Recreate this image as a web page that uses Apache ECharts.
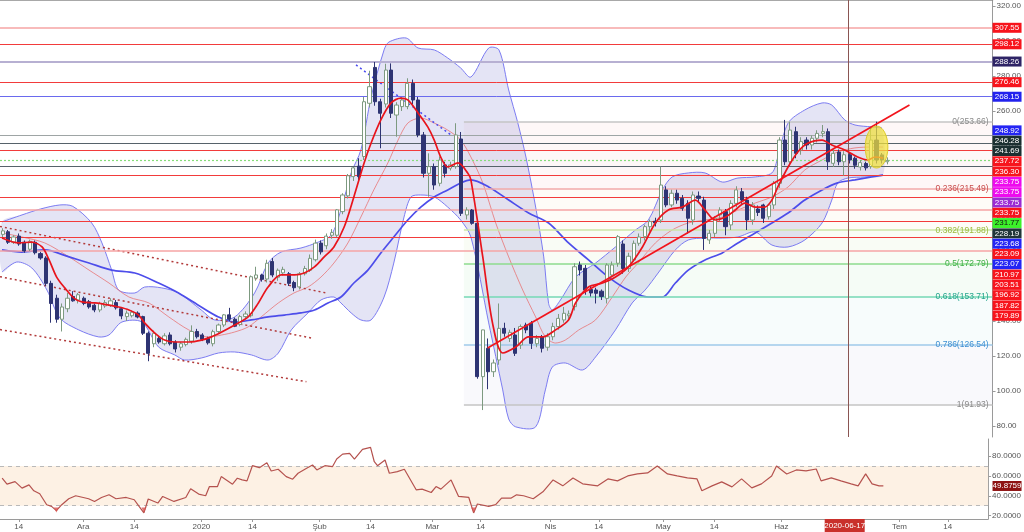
<!DOCTYPE html>
<html><head><meta charset="utf-8">
<script src="https://cdn.jsdelivr.net/npm/echarts@6.0.0/dist/echarts.min.js"></script>
<style>html,body{margin:0;padding:0;background:#fff;}#chart{width:1024px;height:532px;}</style>
</head><body><div id="chart"></div>
<script>
// ---------- DATA ----------
const startDate = '2019-11-11';           // first trading day shown (weekday calendar)
const categoryCount = 184;
const timeTickPos  = [3, 15, 24.5, 37, 46.5, 59, 68.5, 80, 89, 102, 111, 123, 132.5, 145, 167, 176];
const timeTickText = ['14','Ara','14','2020','14','Şub','14','Mar','14','Nis','14','May','14','Haz','Tem','14'];
const cursorPos = 156.8, cursorText = '2020-06-17';
const priceTicks = [80,100,120,140,160,180,200,220,240,260,280,300,320];
const rsiTicks = [20,40,60,80];
const eventBars = [10.0, 26.3, 87.7];
const eventLevel = 25.7;

const opens  = [189.5,191,185,188.5,185,181,185,178.5,176,161.5,153,141,147,154,152,153,151,149,146.3,148.6,149,150.5,147,142.5,143,144.5,142.5,133,127,130,127,132,128,125,126.5,128.5,134,132,130,127,134,137.7,143.5,141,138,142.5,143,164.5,166.3,164,174,165,167.5,167,162,159.5,167,169,175,184.5,183,189,189,202.5,211.5,222.5,228.5,234,264.4,284.9,265.3,264,283.4,257.7,262.5,262.5,275.8,266.3,246.3,224.4,228.2,218.7,229.2,227.3,228.2,244,200.6,203.4,195.8,108.2,124.4,111,117.7,135.8,130,132,126.3,137.7,138.7,127,131,125,131,136.8,140.6,143,148.2,172,170.1,158,157.7,157,152.9,166.3,173,184,170,174.9,184.4,188.2,193.9,197,197.7,214.9,206.3,213,210.1,207.2,197.7,211.4,209.1,186.3,190.1,200.6,202.5,194.9,207.2,213.9,209.1,197.7,204,206.3,199.6,206.3,218.7,243.4,231,248.2,237.7,243.4,240.6,244.4,247.2,248.2,230.1,236.5,231,235,233,228,230,228.2,243.4,234.9,231];
const highs  = [193,192,189,190,186,186.5,186,179.5,177,163,155,150,156,157,156,154,152,150,151,152,153,152,148,146,146,145.5,143,134,134.5,131,133,133.5,129,128,130.5,137.5,135.5,133,131,135,138.5,144,147.5,142,143.5,145.5,166,171,167,175,176,170,171,168,163,168,171.5,178,186.5,186,190,192.5,204,213,224,228,233,268,283,288,267,287,287.2,265,268,278.7,278,268,248,235.8,230,234,231,231,253,248,205,204,197,135,130,118,150,139,135,136,138,139,140,132,132,133,139,144,148,146,173,174,172,160,159,158,173,174,189.1,186,179,186,190,195,198,199,228.2,217,215,215,212,209,214,214,211,192,200,205,204,209,217,216,211,208,206,207,207,220,245,254.9,253.9,251,245,245,246,249,252,250,238,238,237,236,234,232,231,251,253.9,236,233.5];
const lows   = [188,184,184,183,179,180,178,175,160,139,139,134,145,151,150,149,147,145,145,147.5,148,146.5,141,140,142,141.5,132,117,125,127,126,126,122,123,125.5,127,130,128.5,126.5,125.5,133,136.5,140,136.5,137,141.5,142,163,162.5,162,165,163,166,160,157,158,166,168,174,178,181,187,188,201,210,220,220,232,262,263,238.7,262,256,245.3,260,261,264,245,222,211,215,217,222,226,227,200,198,195,107,89.1,101,108,115,131,128,120,124,133,124,125,122,123,129,135,139,141,146,166,155,154,150,152,150,165,171,167,168,174,183,186,191,194,196,205,205,207,203,190,195,208,180.6,184,188,197,189,192,205,207,192,195,200,196,198,204,216,229,229,233,235,238,238,242,245,226.3,228,229,223,230,227,226,226,227,230,230,229.5];
const closes = [191.5,185,188,184,180,185.5,179,176,161.5,150,141,148,153,151.5,155,150,148,146.3,150,150.5,151.5,147.5,142.9,144.5,145,142.3,133,121.5,133,128,131.5,127,124,127,129.5,134,131,129.5,127.5,133.9,137.7,143.5,141,137,142.5,144,165.3,166.3,163.8,173,166.3,169,169.5,161.5,159,167,170,175.8,184.5,179.5,188.5,190.5,203.5,212,223,227.5,222.5,265.3,273.9,265.3,258.7,283.4,258.7,263.4,266.3,275.8,266.3,246.3,224.4,228.2,217.7,232,224.4,229.2,246.3,201.5,203.4,195.8,108.2,134.9,111,116,135.8,133,133.5,121.5,136.8,134.9,127.2,130,124.4,131,136.8,141.5,144.4,144,171,169.1,157.7,156,155.8,154,172,172,188.2,170,177,184.4,188,193.9,196.8,196,217.7,206.3,213,209.1,204.4,198.7,212,210.1,187.2,190.1,198.7,203.4,193.9,207.2,214.9,209.1,197.7,206.3,202,198.7,206.3,218.7,243.4,231,249.1,235.8,242.5,240.6,244.4,247.2,248.2,231,235.8,231,235,232,229,230.5,227.5,243.4,232,232,231.77];

// indicator lines: [bar index, price]
const bbUpper = [[-0.13,196.6],[3.57,200.6],[7,204],[10.6,206.3],[13,205.5],[16.5,196],[18.4,184.6],[20.2,169.1],[21.5,157.7],[24.5,156.0],[26.3,159.4],[29.5,158.9],[32.6,156.0],[36.8,146.3],[39.3,140.6],[43.0,142.3],[46.7,156.0],[49.2,173.1],[51.6,179.4],[55.3,181.7],[58.5,185.1],[60.9,189.1],[62.7,203.4],[64.6,224.6],[66.4,237.7],[68.3,268.0],[70.7,294.9],[71.6,299.4],[74.8,301.7],[77.0,296.0],[80.0,294.9],[82.5,290.3],[84.9,284.6],[86.8,279.4],[90.1,296.0],[92.0,294.9],[93.8,272.0],[95.5,253.1],[97.0,233.7],[98.8,205.1],[100.3,176.6],[101.2,150.0],[101.9,146.3],[103.4,152.0],[106.2,165.1],[109.9,173.1],[113.6,182.3],[117.3,192.0],[119.7,197.7],[122.3,214.9],[124.1,222.3],[127.1,224.6],[130.2,224.6],[133.4,219.4],[136.3,221.7],[139.5,222.3],[142.6,224.6],[143.7,233.7],[145.6,253.1],[148.7,260.6],[151.9,264.6],[153.7,263.4],[156.1,254.9],[158.0,252.0],[161.1,250.9],[163.0,250.3]];
const bbLower = [[-0.13,168.0],[2.6,173.7],[5.4,170.3],[8.2,157.7],[10.6,141.7],[14.1,134.9],[17.8,130.9],[19.7,132.0],[22.1,139.4],[25.8,139.4],[28.9,125.1],[31.9,120.6],[33.7,117.7],[36.9,118.9],[40.0,121.7],[43.0,122.3],[46.1,120.6],[49.2,117.7],[51.1,121.7],[53.5,134.9],[56.6,144.6],[59.0,152.0],[61.4,153.7],[62.7,150.3],[64.6,144.6],[66.4,140.6],[68.3,140.6],[70.7,153.7],[72.5,173.1],[74.4,199.4],[75.7,210.9],[77.5,212.0],[80.0,210.9],[82.5,205.1],[84.9,197.7],[86.8,188.0],[90.1,138.9],[92.7,100.6],[93.8,84.0],[95.1,79.5],[98.8,79.5],[100.6,100.6],[101.9,113.7],[104.3,116.0],[107.5,112.0],[109.9,119.4],[113.6,134.9],[116.7,150.3],[119.1,157.7],[121.5,167.4],[124.7,180.6],[127.1,186.3],[130.2,187.4],[133.4,187.4],[136.3,188.0],[139.5,190.9],[142.6,183.4],[145.6,182.3],[148.7,186.3],[151.9,196.0],[153.7,209.1],[154.8,218.9],[156.7,221.7],[159.8,222.3],[163.2,223.4]];
const maBasis = [[-0.13,190.3],[3.57,188.0],[7.8,184.6],[12.3,176.6],[16.0,169.1],[19.7,161.7],[23.4,153.7],[27.1,150.3],[30.8,142.3],[34.5,134.9],[38.1,130.9],[40.6,132.0],[43.0,133.7],[45.5,136.6],[47.9,142.3],[51.1,150.3],[54.0,156.0],[56.6,159.4],[59.0,165.1],[61.4,173.1],[64.0,184.6],[66.4,199.4],[68.8,214.9],[71.4,230.3],[73.3,243.4],[75.1,253.1],[77.5,256.0],[80.0,253.1],[82.5,249.1],[84.9,243.4],[86.8,233.7],[89.0,218.9],[91.4,196.0],[93.8,176.6],[96.4,157.7],[98.8,142.3],[100.6,130.9],[102.5,127.4],[104.3,129.1],[106.8,134.9],[109.9,140.6],[113.0,153.7],[115.5,165.1],[117.8,173.1],[121.0,184.6],[124.1,192.0],[127.1,196.0],[130.2,197.7],[133.4,199.4],[136.3,203.4],[139.5,207.4],[142.6,210.9],[145.6,216.6],[148.7,226.3],[151.9,232.0],[154.8,236.6],[158.0,238.9],[161.1,239.4],[163.2,239.4]];
const maSlow = [[-0.13,180.6],[3.57,179.4],[7.8,180.6],[12.3,176.6],[16.0,173.1],[20.2,169.1],[24.5,167.4],[28.9,161.7],[32.6,156.0],[36.8,148.0],[40.0,142.3],[43.0,139.4],[46.1,140.6],[49.2,142.3],[52.2,143.4],[55.3,144.6],[57.8,146.3],[60.3,150.3],[62.7,153.7],[65.1,161.7],[67.7,169.1],[70.1,178.9],[72.5,188.0],[75.1,197.7],[77.5,205.1],[80.0,210.9],[82.5,214.9],[84.9,218.9],[86.8,220.6],[90.1,216.6],[93.8,209.1],[97.5,201.7],[101.2,196.0],[104.9,184.6],[108.6,174.9],[112.3,165.1],[116.0,157.7],[119.7,153.7],[122.3,153.7],[124.7,161.7],[127.1,169.1],[130.2,174.9],[133.4,178.9],[136.3,184.6],[139.5,190.3],[142.6,196.0],[145.6,201.7],[148.7,209.1],[151.9,214.9],[154.8,218.9],[158.0,220.6],[161.1,222.3],[163.2,223.4]];
const maFast = [[-0.13,187.4],[3.0,184.6],[5.4,185.1],[7.3,182.3],[8.6,174.9],[10.0,165.1],[11.5,158.9],[13.2,153.1],[14.7,150.9],[17.1,150.3],[19.7,149.1],[21.5,148.0],[23.4,146.3],[25.2,143.4],[26.3,138.9],[28.2,133.1],[30.0,129.1],[31.9,128.0],[34.5,128.0],[36.9,129.1],[38.7,130.9],[40.6,133.7],[43.0,137.7],[45.5,142.3],[47.4,150.3],[49.2,159.4],[51.6,166.3],[54.1,166.3],[55.9,167.4],[57.8,170.9],[59.6,176.6],[61.4,182.3],[63.3,193.7],[65.1,210.9],[67.0,230.3],[68.3,241.7],[70.1,254.9],[72.0,264.6],[73.8,267.4],[75.1,266.3],[77.0,258.9],[78.8,250.9],[80.0,243.4],[81.2,233.7],[82.5,228.0],[84.4,230.3],[86.2,224.6],[86.8,220.6],[89.0,176.6],[90.8,138.9],[92.7,121.7],[95.1,125.1],[97.5,130.9],[100.1,130.9],[102.5,134.9],[104.9,140.6],[106.2,150.3],[108.6,159.4],[111.2,161.7],[113.6,165.1],[116.0,170.9],[118.6,182.3],[121.0,196.0],[123.4,203.4],[126.0,205.1],[128.4,209.1],[130.2,203.4],[132.1,197.7],[134.0,199.4],[135.8,203.4],[137.6,207.4],[139.5,205.1],[141.3,205.1],[142.6,209.1],[143.7,216.6],[145.6,228.0],[147.4,236.6],[149.3,241.7],[151.9,243.4],[153.7,240.6],[156.1,237.7],[158.5,233.7],[160.4,232.0],[161.7,233.7],[163.2,233.1]];
const rsiPoints = [[-0.1,57.7],[0.8,51.7],[2.3,54.3],[3.6,47.7],[4.9,51],[5.8,45],[6.9,42],[8.2,31],[9.1,29.3],[10.0,25],[11.0,31],[12.3,37],[13.6,40],[16.0,37],[17.1,34.3],[18.4,38.3],[19.8,41],[21.1,37],[23.0,38.3],[24.5,36],[25.4,29.3],[26.3,22.7],[27.1,36.7],[28.9,32.7],[29.8,39.3],[31.9,34.3],[34.1,38.3],[35.0,47],[36.5,41.7],[37.8,40],[38.5,49.3],[40.0,49.3],[40.7,59.3],[42.8,51.7],[43.7,57.7],[44.6,56],[45.5,55],[46.5,70.3],[47.8,68.3],[49.2,73.3],[50.0,65],[51.3,66.7],[52.8,59.3],[54.0,56.7],[55.0,62.7],[56.6,67.7],[57.7,71],[58.5,66],[60.0,70.3],[61.4,69.3],[62.2,77],[63.3,82],[64.6,82.7],[65.5,77],[67.0,86.7],[68.5,88.7],[69.2,74.3],[69.8,70.3],[71.2,76],[72.0,62.7],[73.5,64.3],[74.8,66.7],[77.0,46],[78.1,46.7],[79.8,43.3],[80.7,49.3],[81.6,46.7],[83.5,56],[84.9,39.3],[86.8,38.3],[87.7,22.7],[88.4,31.7],[90.5,29.3],[91.8,31],[92.9,37.7],[94.7,37.7],[95.7,41],[97.0,40],[98.8,37],[100.6,44],[102.5,56],[104.3,50],[106.2,58],[108.0,52],[110.8,50],[112.7,57],[114.5,55],[116.4,60],[118.2,62],[120.1,63],[121.9,70],[123.8,62],[125.6,60],[127.5,58],[129.3,57],[130.2,45],[132.1,50],[133.9,54],[135.8,49],[137.6,57],[139.5,48],[141.3,52],[143.2,60],[144.1,70],[146.0,62],[147.8,66],[149.6,65],[151.5,67],[152.4,55],[154.3,58],[156.1,55],[158.0,52],[159.3,50],[160.7,62],[161.9,52],[163.2,50],[164,49.8759]];

// drawn lines (bar index, price)
const trendUp   = [[89.9,124.6],[168.1,263.4]];
const channelA  = [[-0.5,194.0],[60.0,156.0]];
const channelB  = [[-0.5,165.3],[57.5,130.1]];
const channelC  = [[-0.5,135.1],[56.3,105.3]];
const blueDotted= [[65.5,286.3],[83.1,246.3]];
const ellipseCenter = [162, 239.4], ellipseHalf = [2.1, 12];

// horizontal price levels drawn across the chart
const lineLevels = [307.55,298.12,288.26,276.46,268.15,246.28,241.69,237.72,231.77,228.19,223.09,210.97,203.51,196.92,187.82,179.89];
const lineColors = ['#f6a4a4','#f23b3b','#b7b0d2','#f23b3b','#6a6aee','#9ea5a5','#56626a','#f23b3b','#86dc7a','#56626a','#f23b3b','#f23b3b','#f6a4a4','#f23b3b','#f23b3b','#f6a4a4'];
const lineWidths = [1.5,1,2,1,1,1.2,1.2,1,1.2,1.2,1,1,1.5,1,1,1.5];
// price tags on the right scale
const tagValues = [307.55,298.12,288.26,276.46,268.15,248.92,246.28,241.69,237.72,236.30,233.75,233.75,233.75,233.75,231.77,228.19,223.68,223.09,223.07,210.97,203.51,196.92,187.82,179.89];
const tagColors = ['#f7141c','#f7141c','#2e2466','#f7141c','#2222ee','#2424f4','#1b2f31','#1b2f31','#f7141c','#f7141c','#ee0aee','#ee0aee','#9b2bd3','#f7141c','#3cf22a','#213538','#2424f4','#f7141c','#2424f4','#f7141c','#f7141c','#f7141c','#f7141c','#f7141c'];
const tagText   = ['#fff','#fff','#fff','#fff','#fff','#fff','#fff','#fff','#fff','#fff','#fff','#fff','#fff','#fff','#111','#fff','#fff','#fff','#fff','#fff','#fff','#fff','#fff','#fff'];

// Fibonacci retracement
const fibStart = 85.5;
const fibRatios = ['0','0.236','0.382','0.5','0.618','0.786','1'];
const fibPrices = [253.66,215.49,191.88,172.79,153.71,126.54,91.93];
const fibLineColors = ['#c4c4c4','#f2aaaa','#cde4a6','#8edb8e','#74d8b4','#9fcaea','#c4c4c4'];
const fibTextColors = ['#8a8a8a','#c84c4c','#9cba3c','#3fae46','#23a58c','#3d8fd2','#8a8a8a'];
const fibFills = ['rgba(242,120,120,0.06)','rgba(230,200,120,0.06)','rgba(150,210,90,0.06)','rgba(90,200,110,0.06)','rgba(90,190,200,0.05)','rgba(150,150,200,0.06)'];

const rsiLast = 49.8759;

// ---------- BUILD ----------
const categories = [];
(function(){ let d = new Date(startDate + 'T00:00:00Z');
  while (categories.length < categoryCount) { const w = d.getUTCDay(); if (w !== 0 && w !== 6) categories.push(d.toISOString().slice(0,10)); d.setUTCDate(d.getUTCDate()+1); } })();
const candles = opens.map((o,i)=>[o, closes[i], lows[i], highs[i]]);
const KMIN = -0.5, KMAX = categoryCount - 0.5;
const PMIN = 73.7, PMAX = 323.43;
const FONT = '"Liberation Sans", Arial, sans-serif';

const levelMarks = lineLevels.map((v,i)=>({yAxis:v, lineStyle:{color:lineColors[i], width:lineWidths[i], type: v===231.77 ? [2,2] : 'solid'}}));
const fibMarks = fibPrices.map((p,i)=>[{coord:[fibStart,p], lineStyle:{color:fibLineColors[i], width:1.5, type:'solid'}},{coord:[KMAX,p]}]);
const fibAreas = fibFills.map((c,i)=>[{coord:[fibStart,fibPrices[i]], itemStyle:{color:c}},{coord:[KMAX,fibPrices[i+1]]}]);

function lineSeries(data, color, width, extra){
  return Object.assign({type:'line', xAxisIndex:1, yAxisIndex:0, data, symbol:'none', silent:true, clip:true,
    lineStyle:{color, width}, itemStyle:{color}}, extra||{});
}

const option = {
  animation:false,
  backgroundColor:'#ffffff',
  grid:[{left:-2,right:31,top:0,height:437},{left:-2,right:31,top:439,height:80}],
  xAxis:[
    {type:'category', gridIndex:0, data:categories, show:false, boundaryGap:true},
    {type:'value', gridIndex:0, min:KMIN, max:KMAX, splitLine:{show:false}, axisLabel:{show:false}, axisTick:{show:false},
      axisLine:{show:true, onZero:false, lineStyle:{color:'#8c8c8c', width:1.5}}},
    {type:'value', gridIndex:1, min:KMIN, max:KMAX, splitLine:{show:false},
      axisLine:{show:true, onZero:false, lineStyle:{color:'#9a9a9a'}},
      axisTick:{show:true, customValues:timeTickPos, length:3, lineStyle:{color:'#9a9a9a'}},
      axisLabel:{customValues:timeTickPos, formatter:v=>{const j=timeTickPos.indexOf(v);return j<0?'':timeTickText[j];}, color:'#555', fontSize:8, margin:4, fontFamily:FONT}}
  ],
  yAxis:[
    {type:'value', gridIndex:0, position:'right', min:PMIN, max:PMAX, splitLine:{show:false},
      axisLine:{show:true, onZero:false, lineStyle:{color:'#9a9a9a'}},
      axisTick:{show:true, customValues:priceTicks, length:3, lineStyle:{color:'#9a9a9a'}},
      axisLabel:{customValues:priceTicks, formatter:v=>v.toFixed(2), color:'#555', fontSize:8, margin:4, fontFamily:FONT}},
    {type:'value', gridIndex:1, position:'right', min:16.6, max:97.2, splitLine:{show:false},
      axisLine:{show:true, onZero:false, lineStyle:{color:'#9a9a9a'}},
      axisTick:{show:true, customValues:rsiTicks, length:3, lineStyle:{color:'#9a9a9a'}},
      axisLabel:{customValues:rsiTicks, formatter:v=>v.toFixed(4), color:'#555', fontSize:8, margin:4, fontFamily:FONT}}
  ],
  series:[
    {type:'line', xAxisIndex:1, yAxisIndex:0, data:[], silent:true, z:1,
      markArea:{silent:true, data:fibAreas},
      markLine:{silent:true, symbol:'none', label:{show:false}, data:fibMarks}},
    {type:'custom', xAxisIndex:1, yAxisIndex:0, data:[0], silent:true, z:2,
      renderItem:(params, api)=>{
        const up = bbUpper.map(p=>api.coord(p));
        const lo = bbLower.map(p=>api.coord(p));
        const cs = params.coordSys;
        return {type:'group', clipPath:{type:'rect', shape:{x:cs.x, y:cs.y, width:cs.width, height:cs.height}}, children:[
          {type:'polygon', shape:{points:up.concat(lo.slice().reverse()), smooth:0.3}, style:{fill:'rgba(120,120,205,0.2)', stroke:null}},
          {type:'polyline', shape:{points:up, smooth:0.3}, style:{fill:null, stroke:'#7c7cf2', lineWidth:1}},
          {type:'polyline', shape:{points:lo, smooth:0.3}, style:{fill:null, stroke:'#7c7cf2', lineWidth:1}}
        ]};
      }},
    lineSeries([], '#f23b3b', 1, {z:3, markLine:{silent:true, symbol:'none', label:{show:false},
      data: levelMarks.concat([{xAxis:cursorPos, lineStyle:{color:'#8a5552', width:1, type:'solid'}}])}}),
    lineSeries(maBasis, 'rgba(232,110,110,0.75)', 1, {smooth:0.3, z:4}),
    lineSeries(maSlow, '#4d4dea', 1.7, {smooth:0.3, z:4}),
    lineSeries(channelA, '#b23a3a', 1.5, {z:4, lineStyle:{color:'#b23a3a', width:1.5, type:[2,3]}}),
    lineSeries(channelB, '#b23a3a', 1.5, {z:4, lineStyle:{color:'#b23a3a', width:1.5, type:[2,3]}}),
    lineSeries(channelC, '#b23a3a', 1.5, {z:4, lineStyle:{color:'#b23a3a', width:1.5, type:[2,3]}}),
    lineSeries(blueDotted, '#4a4af0', 1.5, {z:4, lineStyle:{color:'#4a4af0', width:1.5, type:[2,3]}}),
    {type:'candlestick', xAxisIndex:0, yAxisIndex:0, data:candles, barWidth:'68%', silent:true, z:5,
      itemStyle:{color:'#ffffff', color0:'#2e3473', borderColor:'#7d9a80', borderColor0:'#2e3473', borderWidth:1}},
    lineSeries(maFast, '#e8141c', 1.7, {smooth:0.3, z:6}),
    lineSeries(trendUp, '#f2141c', 1.7, {z:6}),
    {type:'line', xAxisIndex:2, yAxisIndex:1, data:rsiPoints, symbol:'none', silent:true,
      lineStyle:{color:'#b5524e', width:1.2}, itemStyle:{color:'#b5524e'}, z:5,
      markArea:{silent:true, itemStyle:{color:'#fdf1e4'}, data:[[{yAxis:30},{yAxis:70}]]},
      markLine:{silent:true, symbol:'none', label:{show:false}, lineStyle:{color:'#b9b9b9', width:1, type:[4,4]}, data:[{yAxis:70},{yAxis:30}]}},
    {type:'scatter', xAxisIndex:2, yAxisIndex:1, silent:true, z:6, data:eventBars.map(k=>[k,eventLevel]),
      symbol:'triangle', symbolRotate:180, symbolSize:[5,5], itemStyle:{color:'#d9534f'}}
  ]
};

const chart = echarts.init(document.getElementById('chart'), null, {renderer:'canvas'});
chart.setOption(option);

const xRight = chart.convertToPixel({xAxisIndex:1}, KMAX);
const g = [];
let prev = -1e9;
tagValues.forEach((v,i)=>{
  let y = chart.convertToPixel({yAxisIndex:0}, v);
  y = Math.max(y, prev + 10.3); prev = y;
  g.push({type:'rect', z:100, shape:{x:xRight, y:y-5, width:29, height:10}, style:{fill:tagColors[i]}});
  g.push({type:'text', z:101, x:xRight+14.5, y:y, style:{text:v.toFixed(2), fill:tagText[i], font:'8px '+FONT, align:'center', verticalAlign:'middle', textAlign:'center', textVerticalAlign:'middle'}});
});
fibPrices.forEach((p,i)=>{
  const y = chart.convertToPixel({yAxisIndex:0}, p);
  g.push({type:'text', z:90, x:xRight-4, y:y, style:{text:fibRatios[i]+'('+p.toFixed(2)+')', fill:fibTextColors[i], font:'8.5px '+FONT, align:'right', verticalAlign:'middle', textAlign:'right', textVerticalAlign:'middle'}});
});
{ const y = chart.convertToPixel({yAxisIndex:1}, rsiLast);
  g.push({type:'rect', z:100, shape:{x:xRight, y:y-5, width:29, height:10}, style:{fill:'#8e1212'}});
  g.push({type:'text', z:101, x:xRight+14.5, y:y, style:{text:rsiLast.toFixed(4), fill:'#fff', font:'8px '+FONT, align:'center', verticalAlign:'middle', textAlign:'center', textVerticalAlign:'middle'}}); }
{ const x = chart.convertToPixel({xAxisIndex:2}, cursorPos);
  g.push({type:'rect', z:100, shape:{x:x-20, y:519, width:40, height:13}, style:{fill:'#c9302b'}});
  g.push({type:'text', z:101, x:x, y:525.5, style:{text:cursorText, fill:'#fff', font:'8px '+FONT, align:'center', verticalAlign:'middle', textAlign:'center', textVerticalAlign:'middle'}}); }
{ const c = chart.convertToPixel({xAxisIndex:1, yAxisIndex:0}, ellipseCenter);
  const e = chart.convertToPixel({xAxisIndex:1, yAxisIndex:0}, [ellipseCenter[0]+ellipseHalf[0], ellipseCenter[1]+ellipseHalf[1]]);
  g.push({type:'ellipse', z:60, shape:{cx:c[0], cy:c[1], rx:Math.abs(e[0]-c[0]), ry:Math.abs(c[1]-e[1])}, style:{fill:'rgba(243,226,60,0.72)', stroke:'#dccb2c', lineWidth:1}}); }
chart.setOption({graphic:{elements:g}});
</script></body></html>
